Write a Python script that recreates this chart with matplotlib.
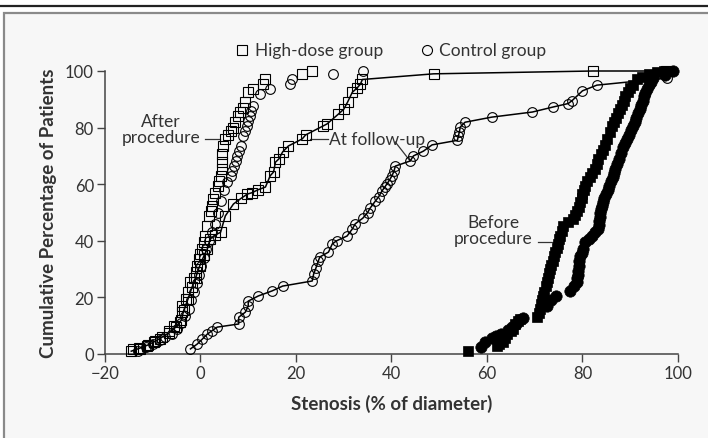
import matplotlib
matplotlib.use("Agg")
import matplotlib.pyplot as plt
from matplotlib.lines import Line2D
from matplotlib.patches import Rectangle

plt.rcParams['font.family'] = ['Lato', 'DejaVu Sans']

# ---------------- data ----------------
x_ticks = [-20, 0, 20, 40, 60, 80, 100]
y_ticks = [0, 20, 40, 60, 80, 100]

# After procedure, high-dose group (open squares)
after_hd_x = [-14.2, -12.6, -11.1, -9.8, -8.4, -6.7, -5.6, -4.2, -3.8, -3.8, -3.1, -2.6, -2.1,
              -1.4, -1.0, -0.7, -0.3, 0.0, 0.4, 0.7, 1.0, 1.4, 1.8, 2.1, 2.4, 2.7, 3.1, 3.6,
              3.9, 4.2, 4.4, 4.5, 4.6, 4.8, 5.2, 5.8, 6.3, 6.8, 7.3, 7.9, 8.3, 8.8, 9.4,
              10.0, 11.0, 13.0, 13.6, 21.3, 23.4]
after_hd_y = [1.8, 1.8, 2.9, 4.1, 5.3, 8.2, 10.0, 11.2, 14.8, 17.0, 19.4, 21.8, 25.3,
              27.0, 29.0, 31.0, 33.6, 35.5, 37.0, 39.5, 41.7, 45.2, 48.8, 50.5, 52.3, 54.8, 57.0, 59.4,
              61.0, 63.0, 65.5, 68.0, 70.5, 73.5, 76.0, 77.5, 78.8, 80.0, 82.0, 84.0, 85.5, 87.0, 89.0,
              92.6, 93.5, 95.4, 97.2, 99.0, 100.0]

# After procedure, control group (open circles)
after_ctl_x = [-13.0, -11.5, -10.0, -8.5, -7.5, -6.0, -5.0, -4.0, -3.2, -2.5, -2.0, -1.4, -0.8,
               -0.3, 0.2, 0.8, 1.2, 1.8, 2.4, 3.0, 3.6, 4.2, 5.0, 5.6, 6.3, 6.6, 7.0, 7.4,
               7.7, 8.1, 8.4, 9.0, 9.4, 9.8, 10.0, 10.3, 10.5, 11.0, 12.5, 14.6, 18.8, 19.2,
               27.8, 34.0]
after_ctl_y = [1.2, 2.4, 3.6, 4.8, 6.0, 7.2, 9.0, 11.0, 13.5, 16.0, 19.0, 22.0, 25.0,
               28.0, 31.0, 34.0, 37.0, 40.0, 43.0, 46.0, 50.0, 54.0, 58.0, 60.8, 63.0, 64.7, 66.4, 68.2,
               70.0, 71.8, 73.5, 77.0, 78.8, 80.6, 82.3, 84.0, 85.8, 87.6, 91.9, 93.6, 95.4, 97.2,
               99.0, 100.0]

# At follow-up, high-dose group (open squares + line)
follow_hd_x = [-14.5, -12.8, -11.0, -9.5, -8.0, -6.5, -5.2, -4.0, -3.5, -2.6, -1.8, -1.0, -0.2,
               0.8, 1.4, 2.0, 3.0, 4.2, 5.2, 6.9, 8.5, 9.8, 10.8, 12.0, 13.6, 14.6, 15.3,
               15.7, 16.4, 17.2, 18.4, 21.3, 22.0, 25.7, 26.5, 28.9, 30.0, 30.8, 31.8, 32.8,
               33.5, 33.9, 48.8, 82.2, 97.5]
follow_hd_y = [1.0, 2.0, 3.2, 4.5, 6.0, 7.5, 9.5, 12.0, 15.5, 19.5, 23.5, 27.0, 31.0,
               35.0, 37.0, 40.6, 42.0, 43.0, 48.8, 53.0, 55.0, 56.5, 57.0, 58.0, 59.0, 63.0, 64.3,
               67.8, 68.9, 71.4, 73.5, 76.0, 77.4, 80.6, 81.3, 84.8, 86.5, 89.0, 92.5, 94.0,
               95.4, 97.0, 99.0, 100.0, 100.0]

# At follow-up, control group (open circles + line)
follow_ctl_x = [-2.1, -0.7, 0.4, 1.4, 2.4, 3.5, 8.0, 8.0, 9.4, 10.0, 10.0, 12.1, 15.0, 17.2,
                23.4, 23.7, 24.2, 24.7, 25.0, 26.8, 27.6, 28.5, 30.7, 31.8, 32.4, 34.0, 35.0,
                35.5, 36.6, 37.3, 38.0, 38.6, 39.0, 39.6, 40.1, 40.5, 40.8, 43.9, 44.6, 46.7,
                48.5, 53.8, 54.0, 54.2, 54.4, 55.4, 61.0, 69.5, 73.9, 77.0, 77.8, 80.0, 83.0,
                97.8]
follow_ctl_y = [1.8, 3.5, 5.3, 7.0, 8.2, 9.5, 10.6, 13.0, 14.8, 17.0, 18.7, 20.5, 22.3, 24.0,
                25.8, 28.3, 30.5, 33.0, 34.3, 36.0, 38.9, 40.0, 41.7, 44.2, 46.0, 48.0, 50.0,
                51.5, 54.0, 55.5, 57.6, 59.0, 60.0, 61.5, 63.0, 64.5, 66.4, 68.2, 70.0, 71.7,
                73.9, 75.5, 77.0, 78.4, 80.2, 81.9, 83.7, 85.5, 87.3, 88.5, 89.5, 93.0, 95.0,
                97.5]

# Before procedure, high-dose group (filled squares)
before_hd_x = [56.0, 62.0, 62.6, 63.4, 63.8, 64.2, 65.0, 65.5, 65.9, 66.5, 67.0, 70.5, 70.8,
               71.0, 71.3, 71.5, 71.8, 72.0, 72.4, 72.6, 72.8, 73.0, 73.2, 73.5, 73.8, 74.0,
               74.3, 74.6, 74.8, 75.1, 75.3, 75.7, 76.0, 77.0, 78.0, 78.4, 78.8, 79.2, 79.5,
               79.8, 80.0, 80.3, 80.5, 81.0, 81.5, 82.0, 82.6, 83.0, 83.3, 83.8, 84.2, 84.7,
               85.2, 85.7, 86.2, 86.6, 87.0, 87.4, 87.8, 88.2, 88.6, 89.0, 89.5, 90.0, 90.5,
               91.5, 92.5, 94.0, 95.5, 97.0]
before_hd_y = [1.0, 2.8, 3.5, 4.2, 5.6, 7.0, 8.0, 8.8, 10.5, 11.5, 12.4, 13.0, 14.5,
               16.0, 17.5, 19.0, 20.5, 22.0, 24.0, 25.5, 27.0, 28.5, 30.0, 31.5, 33.0, 34.5,
               36.0, 37.5, 39.0, 40.5, 41.7, 43.5, 45.2, 46.5, 47.7, 49.0, 50.5, 52.0, 53.7,
               55.0, 56.5, 58.0, 59.4, 61.0, 62.5, 64.0, 65.4, 67.0, 68.9, 70.5, 72.0, 74.0,
               76.0, 78.3, 80.6, 82.0, 83.5, 85.0, 86.5, 88.0, 89.5, 91.0, 92.6, 94.0, 95.0,
               97.0, 98.0, 99.0, 99.5, 100.0]

# Before procedure, control group (filled circles)
before_ctl_x = [58.8, 59.5, 61.0, 61.8, 63.0, 64.5, 65.3, 66.0, 66.8, 67.6, 72.5, 73.5, 74.5,
                77.4, 78.2, 78.8, 78.9, 79.0, 79.1, 79.2, 79.3, 79.5, 79.8, 80.2, 80.6, 81.3,
                82.0, 82.7, 83.3, 83.4, 83.5, 83.6, 83.7, 83.9, 84.0, 84.3, 84.6, 85.0, 85.3,
                85.6, 86.0, 86.3, 86.6, 86.9, 87.2, 87.6, 88.0, 88.5, 88.9, 89.3, 89.7, 90.2,
                90.6, 91.0, 91.3, 91.7, 92.0, 92.3, 92.6, 92.9, 93.1, 93.5, 94.0, 94.4, 94.8,
                97.3, 99.0]
before_ctl_y = [2.5, 4.2, 5.5, 6.4, 7.0, 8.5, 9.5, 10.5, 12.0, 12.6, 17.0, 19.0, 20.5,
                22.3, 24.0, 25.4, 26.7, 28.0, 29.5, 31.0, 32.8, 34.6, 35.8, 37.0, 39.5, 40.6,
                41.7, 43.0, 44.2, 45.6, 47.0, 48.5, 50.0, 51.2, 52.3, 53.7, 55.0, 56.5, 58.0,
                59.5, 61.0, 62.5, 64.0, 65.5, 67.0, 69.0, 71.0, 73.0, 74.7, 76.0, 77.5, 79.0,
                80.6, 82.0, 83.5, 85.0, 86.5, 88.0, 89.5, 91.0, 92.4, 93.7, 95.0, 96.2, 97.5,
                98.5, 100.0]

# ---------------- figure ----------------
fig = plt.figure(figsize=(7.08, 4.39), dpi=100, facecolor='white')
W, H = 708, 439

# outer frame: top rule and grey panel
fig.add_artist(Line2D([0, 1], [1 - 7 / H, 1 - 7 / H], transform=fig.transFigure,
                      color='#222222', lw=1.6))
fig.add_artist(Rectangle((4 / W, -0.1), 1.2, 1.1 - 14 / H, transform=fig.transFigure,
                         facecolor='#f7f7f7', edgecolor='#8a8a8a', lw=1.6, zorder=0))

ax = fig.add_axes([105 / W, 84 / H, 573 / W, 283 / H])
ax.set_facecolor('none')

ms_open = 7.0
mew = 0.8
ax.plot(follow_hd_x, follow_hd_y, color='black', lw=1.1, marker='s', ms=ms_open,
        mfc='none', mec='black', mew=mew, clip_on=False, zorder=3)
ax.plot(follow_ctl_x, follow_ctl_y, color='black', lw=1.1, marker='o', ms=ms_open,
        mfc='none', mec='black', mew=mew, clip_on=False, zorder=3)
ax.plot(after_hd_x, after_hd_y, ls='none', marker='s', ms=ms_open,
        mfc='none', mec='black', mew=mew, clip_on=False, zorder=3)
ax.plot(after_ctl_x, after_ctl_y, ls='none', marker='o', ms=ms_open,
        mfc='none', mec='black', mew=mew, clip_on=False, zorder=3)
ax.plot(before_hd_x, before_hd_y, ls='none', marker='s', ms=7.6,
        mfc='black', mec='black', mew=0.5, clip_on=False, zorder=3)
ax.plot(before_ctl_x, before_ctl_y, ls='none', marker='o', ms=8.2,
        mfc='black', mec='black', mew=0.5, clip_on=False, zorder=3)

ax.set_xlim(-20, 100)
ax.set_ylim(0, 100)
ax.set_xticks(x_ticks)
ax.set_xticklabels(['\u221220' if t < 0 else str(t) for t in x_ticks])
ax.set_yticks(y_ticks)
for s in ['top', 'right']:
    ax.spines[s].set_visible(False)
for s in ['left', 'bottom']:
    ax.spines[s].set_color('#444444')
    ax.spines[s].set_linewidth(1.1)
ax.tick_params(direction='out', length=6, width=1.0, color='#444444',
               labelsize=12, labelcolor='#333333', pad=2)

ax.set_xlabel('Stenosis (% of diameter)', fontsize=13.5, fontweight='bold',
              color='#333333', labelpad=9)
ax.set_ylabel('Cumulative Percentage of Patients', fontsize=13.5, fontweight='bold',
              color='#333333', labelpad=6)

# annotations
lab_kw = dict(fontsize=12.5, color='#333333', linespacing=1.05)
ax.text(-8.3, 79.5, 'After\nprocedure', ha='center', va='center', multialignment='center', **lab_kw)
ax.plot([1.0, 4.0], [76, 76], color='#333333', lw=0.9, clip_on=False)
ax.text(27.0, 76, 'At follow-up', ha='left', va='center', **lab_kw)
ax.plot([23.0, 26.6], [76, 76], color='#333333', lw=0.9, clip_on=False)
ax.plot([40.8, 43.9], [74.9, 68.2], color='#333333', lw=0.9, clip_on=False)
ax.text(61.3, 43.8, 'Before\nprocedure', ha='center', va='center', multialignment='center', **lab_kw)
ax.plot([70.7, 73.8], [39.6, 39.6], color='#333333', lw=0.9, clip_on=False)

# legend (drawn above the plot area)
leg_y = 1.074
ax.plot([0.239], [leg_y], transform=ax.transAxes, ls='none', marker='s', ms=7.2,
        mfc='none', mec='black', mew=0.8, clip_on=False)
ax.text(0.262, leg_y, 'High-dose group', transform=ax.transAxes, ha='left', va='center',
        fontsize=12.5, color='#333333')
ax.plot([0.562], [leg_y], transform=ax.transAxes, ls='none', marker='o', ms=7.2,
        mfc='none', mec='black', mew=0.8, clip_on=False)
ax.text(0.583, leg_y, 'Control group', transform=ax.transAxes, ha='left', va='center',
        fontsize=12.5, color='#333333')

fig.savefig('out.png', dpi=100, facecolor=fig.get_facecolor())
